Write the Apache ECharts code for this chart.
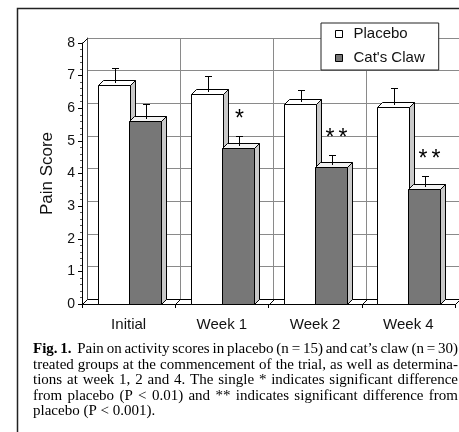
<!DOCTYPE html>
<html>
<head>
<meta charset="utf-8">
<script src="https://cdn.jsdelivr.net/npm/echarts@6/dist/echarts.min.js"></script>
<style>
  html, body { margin: 0; padding: 0; background: #fff; }
  #chart { width: 459px; height: 432px; }
</style>
</head>
<body>
<div id="chart"></div>
<script>
// data
var categories = ['Initial', 'Week 1', 'Week 2', 'Week 4'];
var placebo = [6.72, 6.44, 6.13, 6.04];
var placeboErr = [0.52, 0.54, 0.43, 0.58];
var catsClaw = [5.62, 4.78, 4.2, 3.53];
var catsClawErr = [0.52, 0.37, 0.37, 0.38];
var marks = ['', '*', '**', '**'];
var yMin = 0, yMax = 8, yStep = 1;
var caption = [
  'Fig. 1.  Pain on activity scores in placebo (n = 15) and cat\u2019s claw (n = 30)',
  'treated groups at the commencement of the trial, as well as determina-',
  'tions at week 1, 2 and 4. The single * indicates significant difference',
  'from placebo (P < 0.01) and ** indicates significant difference from',
  'placebo (P < 0.001).'
];

var DX = 5, DY = 5;   // fake 3d depth
var SANS = '"Liberation Sans", Arial, sans-serif';
var SERIF = '"Liberation Serif", "Times New Roman", serif';
var CAP_SIZE = 15, CAP_LEFT = 33, CAP_RIGHT = 458, CAP_TOP = 349, CAP_LH = 15.6;

function px(v) { return Math.round(v) + 0.5; }

function barRender(slot, frontCol, topCol, sideCol) {
  return function (params, api) {
    var i = api.value(0), v = api.value(1), e = api.value(2);
    var base = api.coord([i, 0]);
    var top = api.coord([i, v]);
    var cap = api.coord([i, v + e]);
    var w = api.size([1, 0])[0] / 3;
    var x0 = px(slot === 0 ? base[0] - w : base[0]);
    var x1 = px(x0 + w);
    var yb = px(base[1]), yt = px(top[1]);
    var cx = px((x0 + x1) / 2);
    var cy = px(cap[1]);
    var kids = [
      { type: 'polygon', shape: { points: [[x1, yt], [x1 + DX, yt - DY], [x1 + DX, yb - DY], [x1, yb]] },
        style: { fill: sideCol, stroke: '#000', lineWidth: 1 } },
      { type: 'polygon', shape: { points: [[x0, yt], [x0 + DX, yt - DY], [x1 + DX, yt - DY], [x1, yt]] },
        style: { fill: topCol, stroke: '#000', lineWidth: 1 } },
      { type: 'rect', shape: { x: x0, y: yt, width: x1 - x0, height: yb - yt },
        style: { fill: frontCol, stroke: '#000', lineWidth: 1 } },
      { type: 'line', shape: { x1: cx, y1: yt - DY / 2, x2: cx, y2: cy }, style: { stroke: '#000', lineWidth: 1 } },
      { type: 'line', shape: { x1: cx - 3.5, y1: cy, x2: cx + 3.5, y2: cy }, style: { stroke: '#000', lineWidth: 1 } }
    ];
    var m = slot === 1 ? marks[i] : '';
    for (var j = 0; j < m.length; j++) {
      kids.push({
        type: 'text', x: cx + (j - (m.length - 1) / 2) * 13 + (m.length - 1) * 4, y: cy - 17,
        style: { text: m[j], fontSize: 23, fontFamily: SANS, fill: '#000', align: 'center', verticalAlign: 'middle' }
      });
    }
    return { type: 'group', children: kids };
  };
}

function wallRender(params, api) {
  var cs = params.coordSys;
  var xl = px(cs.x), yb = px(cs.y + cs.height), xr = px(cs.x + cs.width), yt = px(cs.y);
  var kids = [
    { type: 'polygon', shape: { points: [[xl, yb], [xr, yb], [xr + DX, yb - DY], [xl + DX, yb - DY]] },
      style: { fill: '#fff', stroke: '#000', lineWidth: 1 } },
    { type: 'line', shape: { x1: xl, y1: yt, x2: xl + DX, y2: yt - DY }, style: { stroke: '#000', lineWidth: 1 } }
  ];
  for (var k = 1; k < categories.length; k++) {
    var xb = px(cs.x + k * cs.width / categories.length);
    kids.push({ type: 'line', shape: { x1: xb, y1: yb, x2: xb + DX, y2: yb - DY }, style: { stroke: '#000', lineWidth: 1 } });
  }
  return { type: 'group', children: kids };
}

// caption, justified word by word
var ctx = document.createElement('canvas').getContext('2d');
function textW(t, bold) {
  ctx.font = (bold ? 'bold ' : '') + CAP_SIZE + 'px ' + SERIF;
  return ctx.measureText(t).width;
}
var graphics = [{
  type: 'polyline', shape: { points: [[17.5, 432], [17.5, 8.5], [459, 8.5]] },
  style: { stroke: '#222', lineWidth: 1.5, fill: null }
}];
caption.forEach(function (line, li) {
  var words = line.split(' ');
  var nb = li === 0 ? 2 : 0;
  var ws = words.map(function (w, k) { return textW(w, k < nb); });
  var tot = ws.reduce(function (a, b) { return a + b; }, 0);
  var gap = li < caption.length - 1 ? (CAP_RIGHT - CAP_LEFT - tot) / (words.length - 1) : textW(' ');
  var x = CAP_LEFT;
  words.forEach(function (w, k) {
    if (w) {
      graphics.push({
        type: 'text', x: x, y: CAP_TOP + li * CAP_LH,
        style: { text: w, fontSize: CAP_SIZE, fontFamily: SERIF, fontWeight: k < nb ? 'bold' : 'normal',
                 fill: '#000', align: 'left', verticalAlign: 'middle' }
      });
    }
    x += ws[k] + gap;
  });
});

var chart = echarts.init(document.getElementById('chart'));
var option = {
  animation: false,
  backgroundColor: '#fff',
  grid: [
    { left: 82, top: 43, width: 373, height: 261 },
    { left: 87, top: 38, width: 373, height: 261 }
  ],
  legend: {
    left: 321, top: 23, orient: 'vertical',
    padding: [3, 14, 4, 14], itemGap: 8,
    itemWidth: 7, itemHeight: 7, icon: 'rect',
    backgroundColor: '#fff', borderColor: '#222', borderWidth: 1,
    textStyle: { fontSize: 15, fontFamily: SANS, color: '#111', lineHeight: 16, padding: [0, 0, 0, 6] },
    data: [
      { name: 'Placebo', itemStyle: { color: '#fff', borderColor: '#000', borderWidth: 1 } },
      { name: 'Cat\'s Claw', itemStyle: { color: '#777', borderColor: '#000', borderWidth: 1 } }
    ]
  },
  xAxis: [
    { type: 'category', gridIndex: 0, data: categories,
      axisLine: { lineStyle: { color: '#000' } },
      axisTick: { show: true, length: 4, lineStyle: { color: '#000' } },
      axisLabel: { fontSize: 15, fontFamily: SANS, color: '#111', margin: 13 },
      splitLine: { show: false } },
    { type: 'category', gridIndex: 1, data: categories,
      axisLine: { show: false }, axisTick: { show: false }, axisLabel: { show: false },
      splitLine: { show: true, lineStyle: { color: '#8a8a8a', width: 1 } } }
  ],
  yAxis: [
    { type: 'value', gridIndex: 0, min: yMin, max: yMax, interval: yStep,
      name: 'Pain Score', nameLocation: 'middle', nameGap: 26,
      nameTextStyle: { fontSize: 17, fontFamily: SANS, color: '#111' },
      axisLine: { show: true, lineStyle: { color: '#000' } },
      axisTick: { show: true, length: 4, lineStyle: { color: '#000' } },
      minorTick: { show: true, splitNumber: 5, length: 2, lineStyle: { color: '#555' } },
      axisLabel: { fontSize: 14, fontFamily: SANS, color: '#111', margin: 7 },
      splitLine: { show: false } },
    { type: 'value', gridIndex: 1, min: yMin, max: yMax, interval: yStep,
      axisLine: { show: true, lineStyle: { color: '#555' } },
      axisTick: { show: false }, axisLabel: { show: false },
      splitLine: { show: true, lineStyle: { color: '#8a8a8a', width: 1 } } }
  ],
  series: [
    { type: 'custom', name: 'walls', xAxisIndex: 0, yAxisIndex: 0, silent: true,
      renderItem: wallRender, data: [[0, 0]], z: 1 },
    { type: 'custom', name: 'Placebo', xAxisIndex: 0, yAxisIndex: 0, z: 2,
      itemStyle: { color: '#fff' },
      renderItem: barRender(0, '#fff', '#fff', '#c9c9c9'),
      data: categories.map(function (c, i) { return [i, placebo[i], placeboErr[i]]; }) },
    { type: 'custom', name: 'Cat\'s Claw', xAxisIndex: 0, yAxisIndex: 0, z: 3,
      itemStyle: { color: '#777' },
      renderItem: barRender(1, '#777', '#f2f2f2', '#c9c9c9'),
      data: categories.map(function (c, i) { return [i, catsClaw[i], catsClawErr[i]]; }) }
  ],
  graphic: graphics
};
chart.setOption(option);
</script>
</body>
</html>
